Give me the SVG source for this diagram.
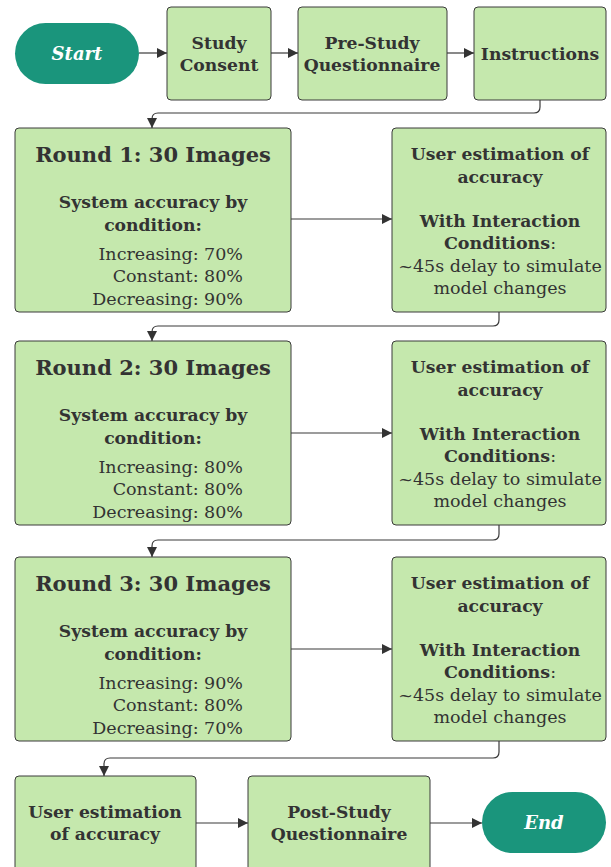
<svg xmlns="http://www.w3.org/2000/svg" width="611" height="867" viewBox="0 0 611 867">
<style>
.box{fill:#c5e8ad;stroke:#3a3a3a;stroke-width:1}
.term{fill:#1a957c}
text{font-family:"DejaVu Serif","Liberation Serif",serif;fill:#333;text-anchor:middle}
.b{font-weight:bold;font-size:17.2px}
.t{font-weight:bold;font-size:21px}
.r{font-size:17.5px}
.re{font-size:17.5px;text-anchor:end}
.w{fill:#fff;font-style:italic;font-weight:bold;font-size:18px}
.c{fill:none;stroke:#3a3a3a;stroke-width:1.2}
</style>
<defs>
<marker id="a" viewBox="0 0 10 10" refX="10" refY="5" markerWidth="10" markerHeight="10" markerUnits="userSpaceOnUse" orient="auto">
<path d="M0,0 L10,5 L0,10 z" fill="#333"/>
</marker>
</defs>
<g id="connectors">
<path class="c" d="M139,53 H167" marker-end="url(#a)"/>
<path class="c" d="M271,53 H298" marker-end="url(#a)"/>
<path class="c" d="M447,53 H474" marker-end="url(#a)"/>
<path class="c" d="M540,100 V107 Q540,113 534,113 H158 Q152,113 152,119 V128" marker-end="url(#a)"/>
<path class="c" d="M291,219 H392" marker-end="url(#a)"/>
<path class="c" d="M499,312 V320 Q499,326 493,326 H158 Q152,326 152,332 V341" marker-end="url(#a)"/>
<path class="c" d="M291,433 H392" marker-end="url(#a)"/>
<path class="c" d="M499,525 V534 Q499,540 493,540 H158 Q152,540 152,546 V557" marker-end="url(#a)"/>
<path class="c" d="M291,649 H392" marker-end="url(#a)"/>
<path class="c" d="M499,741 V752 Q499,758 493,758 H110 Q104,758 104,764 V776" marker-end="url(#a)"/>
<path class="c" d="M196,823 H248" marker-end="url(#a)"/>
<path class="c" d="M430,823 H482" marker-end="url(#a)"/>
</g>
<g id="start">
<rect class="term" x="15" y="23" width="124" height="61" rx="30.5"/>
<text class="w" x="77" y="60">Start</text>
</g>
<g id="consent">
<rect class="box" x="167" y="7" width="104" height="93" rx="4"/>
<text class="b" x="219" y="49">Study</text>
<text class="b" x="219" y="71">Consent</text>
</g>
<g id="prestudy">
<rect class="box" x="298" y="7" width="149" height="93" rx="4"/>
<text class="b" x="372" y="49">Pre-Study</text>
<text class="b" x="372" y="71">Questionnaire</text>
</g>
<g id="instructions">
<rect class="box" x="474" y="7" width="132" height="93" rx="4"/>
<text class="b" x="540" y="60">Instructions</text>
</g>
<g id="round1">
<rect class="box" x="15" y="128" width="276" height="184" rx="4"/>
<text class="t" x="153" y="162">Round 1: 30 Images</text>
<text class="b" x="153" y="208">System accuracy by</text>
<text class="b" x="153" y="231">condition:</text>
<text class="re" x="243" y="260">Increasing: 70%</text>
<text class="re" x="243" y="282">Constant: 80%</text>
<text class="re" x="243" y="305">Decreasing: 90%</text>
</g>
<g id="est1">
<rect class="box" x="392" y="128" width="214" height="184" rx="4"/>
<text class="b" x="500" y="160">User estimation of</text>
<text class="b" x="500" y="183">accuracy</text>
<text class="b" x="500" y="227">With Interaction</text>
<text class="r" x="500" y="249"><tspan font-weight="bold">Conditions</tspan>:</text>
<text class="r" x="500" y="272">~45s delay to simulate</text>
<text class="r" x="500" y="294">model changes</text>
</g>
<g id="round2">
<rect class="box" x="15" y="341" width="276" height="184" rx="4"/>
<text class="t" x="153" y="375">Round 2: 30 Images</text>
<text class="b" x="153" y="421">System accuracy by</text>
<text class="b" x="153" y="444">condition:</text>
<text class="re" x="243" y="473">Increasing: 80%</text>
<text class="re" x="243" y="495">Constant: 80%</text>
<text class="re" x="243" y="518">Decreasing: 80%</text>
</g>
<g id="est2">
<rect class="box" x="392" y="341" width="214" height="184" rx="4"/>
<text class="b" x="500" y="373">User estimation of</text>
<text class="b" x="500" y="396">accuracy</text>
<text class="b" x="500" y="440">With Interaction</text>
<text class="r" x="500" y="462"><tspan font-weight="bold">Conditions</tspan>:</text>
<text class="r" x="500" y="485">~45s delay to simulate</text>
<text class="r" x="500" y="507">model changes</text>
</g>
<g id="round3">
<rect class="box" x="15" y="557" width="276" height="184" rx="4"/>
<text class="t" x="153" y="591">Round 3: 30 Images</text>
<text class="b" x="153" y="637">System accuracy by</text>
<text class="b" x="153" y="660">condition:</text>
<text class="re" x="243" y="689">Increasing: 90%</text>
<text class="re" x="243" y="711">Constant: 80%</text>
<text class="re" x="243" y="734">Decreasing: 70%</text>
</g>
<g id="est3">
<rect class="box" x="392" y="557" width="214" height="184" rx="4"/>
<text class="b" x="500" y="589">User estimation of</text>
<text class="b" x="500" y="612">accuracy</text>
<text class="b" x="500" y="656">With Interaction</text>
<text class="r" x="500" y="678"><tspan font-weight="bold">Conditions</tspan>:</text>
<text class="r" x="500" y="701">~45s delay to simulate</text>
<text class="r" x="500" y="723">model changes</text>
</g>
<g id="est-final">
<rect class="box" x="15" y="776" width="181" height="100" rx="4"/>
<text class="b" x="105" y="818">User estimation</text>
<text class="b" x="105" y="840">of accuracy</text>
</g>
<g id="poststudy">
<rect class="box" x="248" y="776" width="182" height="100" rx="4"/>
<text class="b" x="339" y="818">Post-Study</text>
<text class="b" x="339" y="840">Questionnaire</text>
</g>
<g id="end">
<rect class="term" x="482" y="792" width="124" height="61" rx="30.5"/>
<text class="w" x="544" y="829">End</text>
</g>
</svg>
